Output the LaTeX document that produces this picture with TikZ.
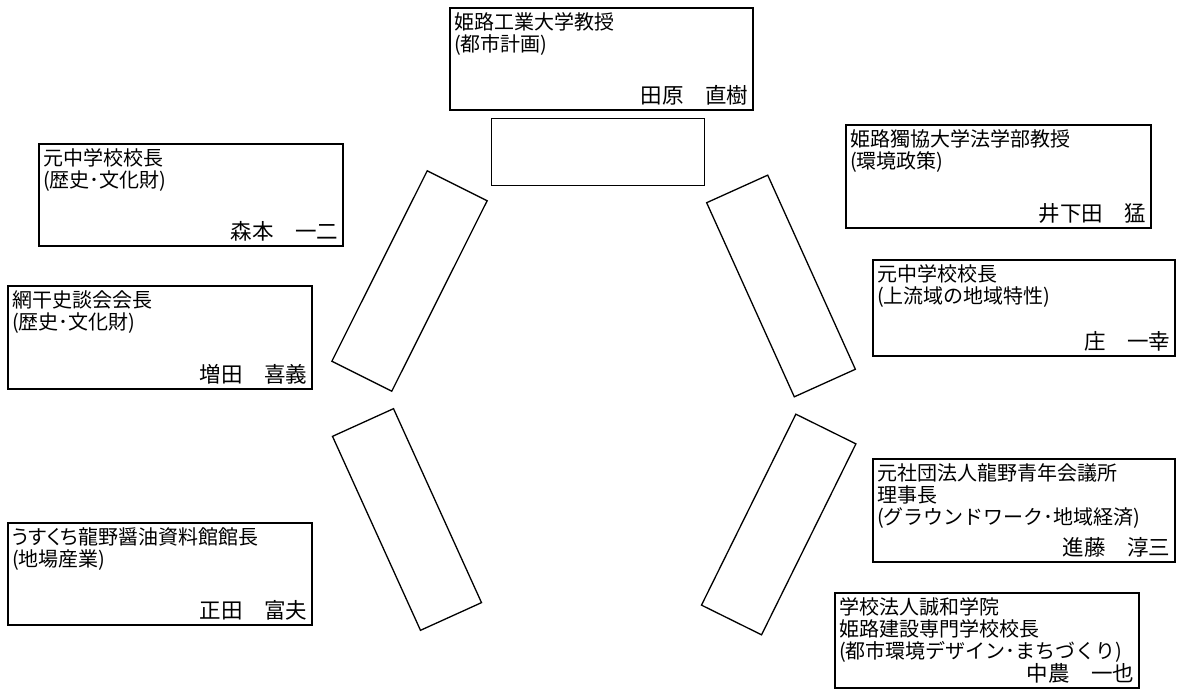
\documentclass[tikz,border=0pt]{standalone}
\usepackage{fontspec}
\setmainfont{Noto Sans CJK JP}
\newfontfamily\propkana[RawFeature=+palt]{Noto Sans CJK JP}
\begin{document}
\begin{tikzpicture}[x=1pt,y=1pt,
  card/.style={draw, line width=1.6pt, inner sep=0pt, anchor=north west},
  title/.style={anchor=north west, inner sep=0pt, align=left, font=\fontsize{20}{22}\selectfont},
  person/.style={anchor=south east, inner sep=0pt, font=\fontsize{21.5}{23}\selectfont},
  blank/.style={draw, line width=1.3pt, minimum width=213pt, minimum height=67pt, inner sep=0pt}]
\useasboundingbox (0,0) rectangle (1182,695);
% cards
\node[card, minimum width=303pt, minimum height=102pt] (T) at (449,688) {};
\node[card, minimum width=304pt, minimum height=102pt] (L1) at (38,552) {};
\node[card, minimum width=304pt, minimum height=103pt] (L2) at (7,410) {};
\node[card, minimum width=304pt, minimum height=102pt] (L3) at (7,173) {};
\node[card, minimum width=305pt, minimum height=103pt] (R1) at (845,571) {};
\node[card, minimum width=302pt, minimum height=96pt] (R2) at (872,436) {};
\node[card, minimum width=302pt, minimum height=103pt] (R3) at (872,237) {};
\node[card, minimum width=304pt, minimum height=95pt] (R4) at (834,103) {};
% titles
\node[title] (tT) at ([shift={(5,-5.5)}]T.north west) {姫路工業大学教授\\(都市計画)};
\node[title] (tL1) at ([shift={(5,-5.5)}]L1.north west) {元中学校校長\\(歴史･文化財)};
\node[title] (tL2) at ([shift={(5,-5.5)}]L2.north west) {網干史談会会長\\(歴史･文化財)};
\node[title] (tL3) at ([shift={(5,-5.5)}]L3.north west) {{\propkana うすくち}龍野醤油資料館館長\\(地場産業)};
\node[title] (tR1) at ([shift={(5,-5.5)}]R1.north west) {姫路獨協大学法学部教授\\(環境政策)};
\node[title] (tR2) at ([shift={(5,-5.5)}]R2.north west) {元中学校校長\\(上流域の地域特性)};
\node[title] (tR3) at ([shift={(5,-5.5)}]R3.north west) {元社団法人龍野青年会議所\\理事長\\(グラウンドワーク･地域経済)};
\node[title] (tR4) at ([shift={(5,-5.5)}]R4.north west) {学校法人誠和学院\\姫路建設専門学校校長\\(都市環境デザイン･まちづくり)};
% names
\node[person] (nT) at ([shift={(-5,5)}]T.south east) {田原　直樹};
\node[person] (nL1) at ([shift={(-5,5)}]L1.south east) {森本　一二};
\node[person] (nL2) at ([shift={(-5,5)}]L2.south east) {増田　喜義};
\node[person] (nL3) at ([shift={(-5,5)}]L3.south east) {正田　富夫};
\node[person] (nR1) at ([shift={(-5,5)}]R1.south east) {井下田　猛};
\node[person] (nR2) at ([shift={(-5,5)}]R2.south east) {庄　一幸};
\node[person] (nR3) at ([shift={(-5,5)}]R3.south east) {進藤　淳三};
\node[person] (nR4) at ([shift={(-5,5)}]R4.south east) {中農　一也};
% empty frames
\node[blank] (B0) at (598,543) {};
\node[blank, rotate=63.4] (B1) at (409.5,414) {};
\node[blank, rotate=-65.6] (B2) at (407,175.5) {};
\node[blank, rotate=-65.7] (B3) at (781,409) {};
\node[blank, rotate=63.7] (B4) at (778.7,170.5) {};
\end{tikzpicture}
\end{document}
